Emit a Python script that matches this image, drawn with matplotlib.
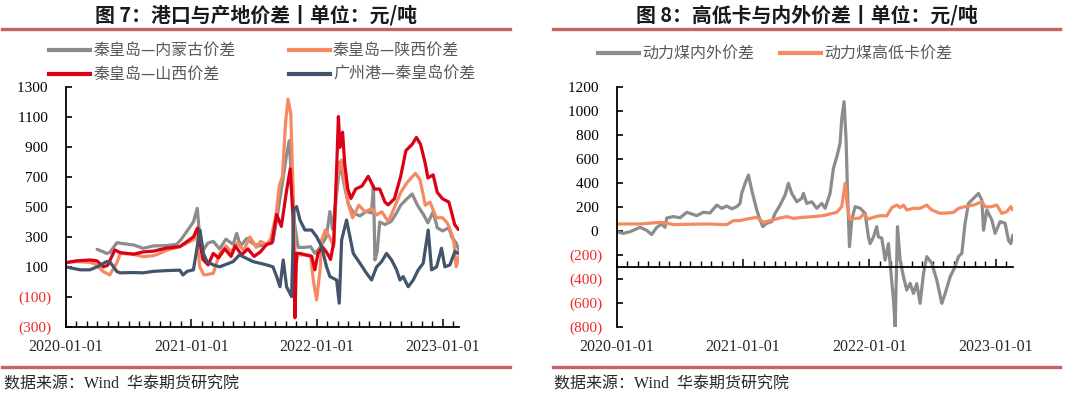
import matplotlib
matplotlib.use('Agg')
import matplotlib.pyplot as plt
from matplotlib.lines import Line2D
from matplotlib.ticker import FixedLocator, FuncFormatter, NullFormatter
import matplotlib.transforms as mtransforms

plt.rcParams['font.family'] = ['Liberation Serif', 'Noto Sans CJK SC']

# ---- data: (months since 2020-01-01, yuan/ton) ----
# fig 7
nmg_spread = [  # 秦皇岛—内蒙古价差
    (3.0, 217), (3.6, 200), (3.9, 190), (4.2, 195), (4.9, 262), (5.5, 255), (6.5, 246),
    (7.4, 224), (8.4, 240), (9.6, 242), (10.6, 250), (11.1, 290), (11.6, 340), (12.2, 400),
    (12.57, 491), (12.8, 302), (13.15, 213), (13.6, 260), (14.1, 270), (14.7, 220), (15.3, 285),
    (16.0, 250), (16.33, 324), (16.7, 240), (17.3, 290), (17.9, 255), (18.5, 240), (19.2, 250),
    (19.8, 270), (20.15, 413), (20.7, 660), (21.1, 850), (21.36, 943), (21.55, 700), (21.8, 420),
    (22.2, 230), (22.8, 230), (23.4, 235), (23.8, 190), (24.3, 230), (24.9, 300), (25.24, 470),
    (25.5, 350), (25.9, 600), (26.2, 800), (26.6, 650), (27.0, 520), (27.5, 460), (28.1, 440),
    (28.7, 470), (29.2, 460), (29.4, 640), (29.54, 146), (29.75, 200), (30.0, 400), (30.5, 383),
    (31.1, 404), (31.6, 460), (32.0, 512), (32.6, 555), (33.1, 587), (33.6, 512), (34.2, 447),
    (34.6, 394), (35.1, 468), (35.5, 361), (36.0, 340), (36.6, 361), (36.9, 297), (37.3, 260),
    (37.56, 210),
]
shaanxi_spread = [  # 秦皇岛—陕西价差
    (0, 128), (1.0, 135), (2.3, 130), (2.8, 120), (3.6, 68), (4.2, 46), (4.9, 128), (5.2, 190),
    (6.4, 185), (7.4, 168), (8.4, 175), (9.0, 190), (9.6, 210), (10.9, 235), (12.2, 280),
    (12.5, 324), (12.8, 100), (13.2, 46), (13.6, 50), (14.1, 57), (14.7, 190), (15.3, 240),
    (15.8, 200), (16.4, 260), (17.0, 210), (17.6, 300), (18.2, 230), (18.6, 270), (19.2, 250),
    (19.6, 290), (20.1, 450), (20.4, 640), (20.7, 705), (21.0, 1060), (21.24, 1220), (21.5, 1126),
    (21.74, 569), (21.95, 100), (22.2, 180), (22.9, 180), (23.4, 175), (23.65, 12), (23.97, -121),
    (24.3, 80), (24.45, 280), (24.8, 346), (25.2, 300), (25.6, 235), (25.9, 700), (26.36, 814),
    (26.65, 662), (26.95, 533), (27.4, 428), (28.0, 512), (28.6, 468), (29.2, 490), (29.7, 447),
    (30.2, 468), (30.8, 404), (31.1, 447), (32.0, 597), (32.6, 662), (33.4, 725), (33.85, 683),
    (34.35, 512), (34.8, 533), (35.4, 428), (36.0, 428), (36.45, 394), (36.9, 318), (37.1, 254),
    (37.3, 100), (37.56, 168),
]
shanxi_spread = [  # 秦皇岛—山西价差
    (0, 128), (1.0, 140), (2.3, 146), (3.0, 140), (3.6, 100), (4.0, 110), (4.7, 213), (5.2, 195),
    (6.5, 185), (7.4, 200), (8.4, 205), (9.0, 215), (9.6, 225), (10.9, 235), (11.4, 260),
    (12.2, 300), (12.6, 360), (13.1, 150), (13.6, 113), (14.1, 190), (14.6, 160), (15.2, 220),
    (15.8, 170), (16.2, 240), (16.8, 180), (17.4, 220), (18.0, 170), (18.6, 200), (19.2, 250),
    (19.7, 260), (20.15, 450), (20.6, 370), (21.1, 610), (21.45, 755), (21.7, 450), (21.8, 100),
    (21.9, -240), (22.05, 190), (22.4, 190), (22.9, 180), (23.5, 170), (23.8, 80), (24.1, 190),
    (24.5, 235), (24.9, 200), (25.3, 150), (25.6, 260), (25.9, 790), (26.05, 1104), (26.2, 898),
    (26.45, 1000), (26.65, 790), (26.95, 620), (27.25, 557), (27.7, 620), (28.3, 640), (28.9, 705),
    (29.5, 620), (30.0, 620), (30.5, 533), (30.8, 514), (31.4, 555), (32.0, 705), (32.5, 877),
    (33.1, 919), (33.5, 965), (33.9, 919), (34.35, 790), (34.6, 694), (35.1, 715), (35.5, 597),
    (36.0, 555), (36.6, 533), (36.85, 468), (37.16, 383), (37.5, 350),
]
gz_spread = [  # 广州港—秦皇岛价差
    (0, 100), (1.4, 80), (2.3, 80), (3.0, 100), (3.9, 135), (4.2, 135), (4.9, 68), (5.2, 60),
    (6.5, 62), (7.4, 60), (8.4, 70), (9.6, 75), (10.9, 78), (11.2, 46), (11.6, 70), (12.2, 80),
    (12.83, 346), (13.15, 190), (13.5, 135), (14.1, 113), (14.7, 100), (16.0, 135), (16.6, 180),
    (17.9, 135), (19.2, 113), (19.8, 100), (20.15, 35), (20.47, -33), (20.78, 146), (21.1, -33),
    (21.58, -99), (21.8, 480), (22.06, 503), (22.38, 413), (22.85, 346), (23.49, 346), (23.97, 302),
    (24.45, 235), (24.92, 100), (25.24, 35), (25.88, 12), (26.13, -143), (26.36, 280), (26.83, 413),
    (27.15, 302), (27.47, 190), (28.11, 124), (28.74, 57), (29.22, 12), (29.7, 100), (30.18, 135),
    (30.65, 190), (31.13, 146), (31.61, 80), (31.93, 12), (32.24, 35), (32.72, -33), (33.2, 12),
    (33.68, 80), (34.15, 124), (34.63, 346), (34.95, 80), (35.43, 100), (35.9, 224), (36.22, 100),
    (36.7, 113), (37.18, 202), (37.5, 190),
]
# fig 8
in_out_spread = [  # 动力煤内外价差
    (0, -6), (0.63, -20), (1.27, -6), (2.22, 30), (2.85, 5), (3.32, -30), (3.8, 30), (4.27, 58),
    (4.59, 30), (4.75, 108), (5.38, 120), (6.02, 110), (6.65, 156), (7.6, 128), (8.23, 156),
    (8.86, 150), (9.5, 216), (9.97, 189), (10.45, 208), (10.92, 185), (11.4, 203), (11.71, 230),
    (11.87, 314), (12.19, 398), (12.51, 467), (12.82, 342), (13.3, 175), (13.61, 92), (13.87, 36),
    (14.25, 64), (14.72, 78), (15.04, 147), (15.51, 216), (15.99, 300), (16.3, 398), (16.62, 314),
    (17.1, 244), (17.57, 272), (17.73, 314), (18.04, 230), (18.52, 244), (19.0, 189), (19.47, 230),
    (19.79, 189), (20.26, 314), (20.58, 523), (20.9, 620), (21.21, 732), (21.37, 941), (21.59, 1080),
    (21.78, 760), (21.91, 342), (22.1, -132), (22.32, 92), (22.64, 203), (23.11, 190), (23.59, 147),
    (23.9, -50), (24.06, -106), (24.38, -50), (24.69, 36), (24.85, -50), (25.17, -60), (25.49, -243),
    (25.8, -106), (25.96, -271), (26.28, -578), (26.44, -800), (26.66, 36), (26.91, -243),
    (27.23, -383), (27.54, -494), (27.86, -438), (28.18, -522), (28.49, -440), (28.81, -605),
    (29.13, -355), (29.44, -215), (29.92, -271), (30.39, -410), (30.87, -605), (31.19, -522),
    (31.66, -383), (32.13, -299), (32.45, -215), (32.77, -187), (33.08, 64), (33.4, 230),
    (33.88, 272), (34.35, 314), (34.67, 258), (34.83, 6), (35.14, 175), (35.62, 92), (35.93, -20),
    (36.41, 78), (36.88, 64), (37.2, -78), (37.42, -106), (37.61, -36),
]
hi_lo_cal_spread = [  # 动力煤高低卡价差
    (0, 58), (2.22, 58), (4.12, 72), (4.75, 65), (5.38, 53), (6.33, 55), (8.55, 58), (10.45, 53),
    (11.08, 86), (11.71, 86), (12.35, 100), (13.3, 114), (13.93, 72), (14.56, 86), (15.51, 108),
    (16.15, 120), (16.78, 105), (17.73, 114), (18.68, 120), (19.63, 128), (20.26, 142), (20.9, 156),
    (21.37, 203), (21.69, 398), (21.91, 203), (22.1, 100), (23.11, 108), (23.43, 142), (23.9, 100),
    (24.38, 114), (25.01, 128), (25.64, 125), (26.12, 195), (26.6, 216), (26.91, 195), (27.23, 216),
    (27.54, 175), (28.18, 189), (28.81, 189), (29.44, 216), (29.92, 175), (30.71, 147), (31.34, 150),
    (31.98, 155), (32.45, 189), (33.08, 203), (33.88, 216), (34.67, 244), (34.99, 203), (35.46, 200),
    (36.09, 216), (36.57, 147), (37.04, 161), (37.42, 203), (37.61, 175),
]

date_pos = [0, 12, 24, 36]
date_labels = ['2020-01-01', '2021-01-01', '2022-01-01', '2023-01-01']
left_names = ['秦皇岛—内蒙古价差', '秦皇岛—陕西价差', '秦皇岛—山西价差', '广州港—秦皇岛价差']
right_names = ['动力煤内外价差', '动力煤高低卡价差']

GRAY = '#8c8c8c'
ORANGE = '#f58a62'
RED = '#dc0014'
NAVY = '#44546a'
RULE = '#c46464'
NEG = '#f0282d'
CJK = ['Noto Sans CJK SC', 'DejaVu Sans']

W, H = 1080, 396
fig = plt.figure(figsize=(W / 100, H / 100), dpi=100)


def fx(x):
    return x / W


def fy(y):
    return 1 - y / H


def acct(v, pos):
    v = int(round(v))
    return '(%d)' % abs(v) if v < 0 else '%d ' % v


def setup_axes(x0, x1, ytop, ybot, ylim, yticks, xaxis_at):
    ax = fig.add_axes([fx(x0), fy(ybot), (x1 - x0) / W, (ybot - ytop) / H])
    ax.set_xlim(0, 37.6)
    ax.set_ylim(*ylim)
    for s in ['top', 'right']:
        ax.spines[s].set_visible(False)
    ax.spines['left'].set_linewidth(1.3)
    ax.spines['bottom'].set_linewidth(1.3)
    ax.spines['bottom'].set_position(('data', xaxis_at))
    ax.yaxis.set_major_locator(FixedLocator(yticks))
    ax.yaxis.set_major_formatter(FuncFormatter(acct))
    ax.xaxis.set_major_locator(FixedLocator(date_pos))
    ax.xaxis.set_minor_locator(FixedLocator(range(0, 38)))
    ax.xaxis.set_major_formatter(NullFormatter())
    ax.tick_params(axis='y', direction='in', length=4.5, width=1.2, pad=10,
                   labelsize=11, colors='black')
    ax.tick_params(axis='x', which='major', direction='in', length=5.5, width=1.1)
    ax.tick_params(axis='x', which='minor', direction='in', length=4, width=1.0)
    # date labels sit under the plot box, not on the (possibly raised) x axis line
    trans = mtransforms.blended_transform_factory(ax.transData, ax.transAxes)
    off = mtransforms.ScaledTranslation(0, -12 / 100, fig.dpi_scale_trans)
    for p, lab in zip(date_pos, date_labels):
        ax.text(p, 0, lab, transform=trans + off, ha='center', va='top', fontsize=11.5,
                color='#262626')
    return ax


def plot_series(ax, series, color):
    xs, ys = zip(*series)
    ax.plot(xs, ys, color=color, lw=2.3, solid_joinstyle='round', solid_capstyle='round')


def legend_entry(x, y, color, label):
    fig.add_artist(Line2D([fx(x), fx(x + 41)], [fy(y), fy(y)], color=color, lw=3,
                          transform=fig.transFigure))
    fig.text(fx(x + 44), fy(y), label, ha='left', va='center', fontsize=11.5,
             color='#595959', family=CJK)


# ---- left: fig 7 ----
axl = setup_axes(65.7, 459.3, 87.3, 326.7, (-300, 1300), range(-300, 1301, 200), -300)
plot_series(axl, nmg_spread, GRAY)
plot_series(axl, shaanxi_spread, ORANGE)
plot_series(axl, shanxi_spread, RED)
plot_series(axl, gz_spread, NAVY)

# ---- right: fig 8 ----
axr = setup_axes(616.7, 1012.7, 87.3, 326.7, (-800, 1200), range(-800, 1201, 200), -300)
plot_series(axr, in_out_spread, GRAY)
plot_series(axr, hi_lo_cal_spread, ORANGE)

# titles, rules, sources
for cx, x0, x1, title in [(256, 2, 510, '图 7：港口与产地价差丨单位：元/吨'),
                          (807, 553, 1060, '图 8：高低卡与内外价差丨单位：元/吨')]:
    fig.text(fx(cx), fy(15), title, ha='center', va='center', fontsize=14.3,
             fontweight='bold', family=CJK, color='#1a1a1a')
    fig.add_artist(Line2D([fx(x0), fx(x1)], [fy(29.3), fy(29.3)], color=RULE, lw=2.4,
                          transform=fig.transFigure))
    fig.add_artist(Line2D([fx(x0), fx(x1)], [fy(367), fy(367)], color=RULE, lw=2.4,
                          transform=fig.transFigure))
    fig.text(fx(x0 + 1.5), fy(385), '数据来源：Wind  华泰期货研究院', ha='left', va='center',
             fontsize=11.5, color='#262626')

legend_entry(49.3, 50, GRAY, left_names[0])
legend_entry(289, 50, ORANGE, left_names[1])
legend_entry(49.3, 74, RED, left_names[2])
legend_entry(289, 74, NAVY, left_names[3])
legend_entry(598, 53.3, GRAY, right_names[0])
legend_entry(780, 53.3, ORANGE, right_names[1])

fig.canvas.draw()
for ax in (axl, axr):
    for t in ax.get_yticklabels():
        if t.get_text().startswith('('):
            t.set_color(NEG)

fig.savefig('out.png', dpi=100)
